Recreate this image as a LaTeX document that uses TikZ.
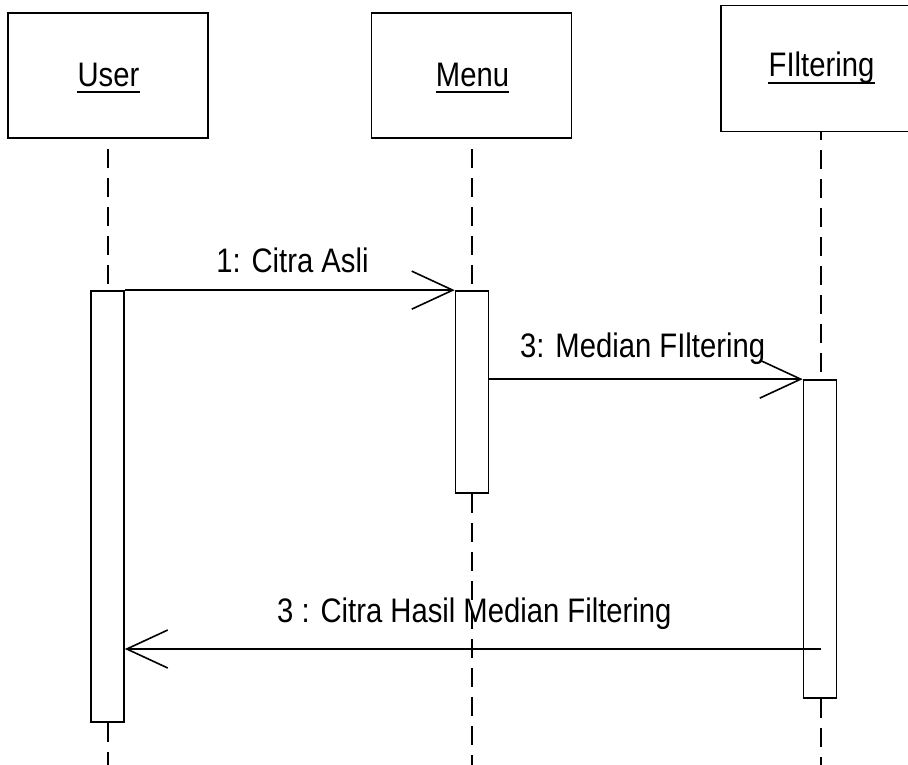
\documentclass[tikz,border=0pt]{standalone}
\usepackage{fontspec}
\setmainfont{Liberation Sans}[FakeStretch=0.86]
\usetikzlibrary{arrows.meta}
\begin{document}
\begin{tikzpicture}[x=1pt,y=-1pt,
  objbox/.style={draw,line width=1.8pt,minimum width=200pt,minimum height=125pt,inner sep=0pt},
  actbox/.style={draw,fill=white,line width=1.7pt,minimum width=33pt,inner sep=0pt},
  lbl/.style={inner sep=0pt,font=\fontsize{34}{40}\selectfont},
  uline/.style={line width=2.4pt},
  lifeline/.style={line width=1.9pt,dash pattern=on 19pt off 10pt},
  msg/.style={line width=1.6pt,-{Straight Barb[length=41pt,width=38pt,line width=1.6pt]}}]
\useasboundingbox (0,0) rectangle (908,765);
\clip (0,0) rectangle (908,765);
\fill[white] (0,0) rectangle (908,765);
% object boxes
\node[objbox] (bU) at (108,75.5) {};
\node[objbox] (bM) at (471.5,75.5) {};
\node[objbox,minimum height=126pt] (bF) at (821,68.5) {};
% box labels
\node[lbl,anchor=base] (tU) at (108.5,87) {User};
\draw[uline] ([yshift=-5pt]tU.base west) -- ([yshift=-5pt]tU.base east);
\node[lbl,anchor=base] (tM) at (472.5,87) {Menu};
\draw[uline] ([yshift=-5pt]tM.base west) -- ([yshift=-5pt]tM.base east);
\node[lbl,anchor=base] (tF) at (821.5,77) {FIltering};
\draw[uline] ([yshift=-6pt]tF.base west) -- ([yshift=-6pt]tF.base east);
% activations
\node[actbox,minimum height=431pt] (aU) at (107.5,506.5) {};
\node[actbox,minimum height=202pt] (aM) at (472,392) {};
\node[actbox,minimum height=318pt] (aF) at (820,539) {};
% lifelines
\coordinate (eU) at (108,765);
\coordinate (eM) at (472,765);
\coordinate (eF) at (821,765);
\draw[lifeline,dash phase=19pt] (bU.south) -- (bU.south |- aU.north);
\draw[lifeline] (bU.south |- aU.south) -- (eU);
\draw[lifeline,dash phase=19pt] (aM.center |- bM.south) -- (aM.north);
\draw[lifeline] (aM.south) -- (eM);
\draw[lifeline,dash phase=11pt] (bF.south) -- (bF.south |- aF.north);
\draw[lifeline] (bF.south |- aF.south) -- (eF);
% messages
\draw[msg] (aU.north east) -- (aM.north west);
\node[lbl,anchor=base] (m1) at (292.5,272) {1: Citra Asli};
\draw[msg] (aM.east |- aF.north) -- (aF.north west);
\node[lbl,anchor=base west] (m2) at (520,357) {3: Median FIltering};
\coordinate (r0) at (821,649);
\draw[msg] (r0) -- (aU.east |- r0);
\node[lbl,anchor=base west] (m3) at (277,622) {3 : Citra Hasil Median Filtering};
\end{tikzpicture}
\end{document}
